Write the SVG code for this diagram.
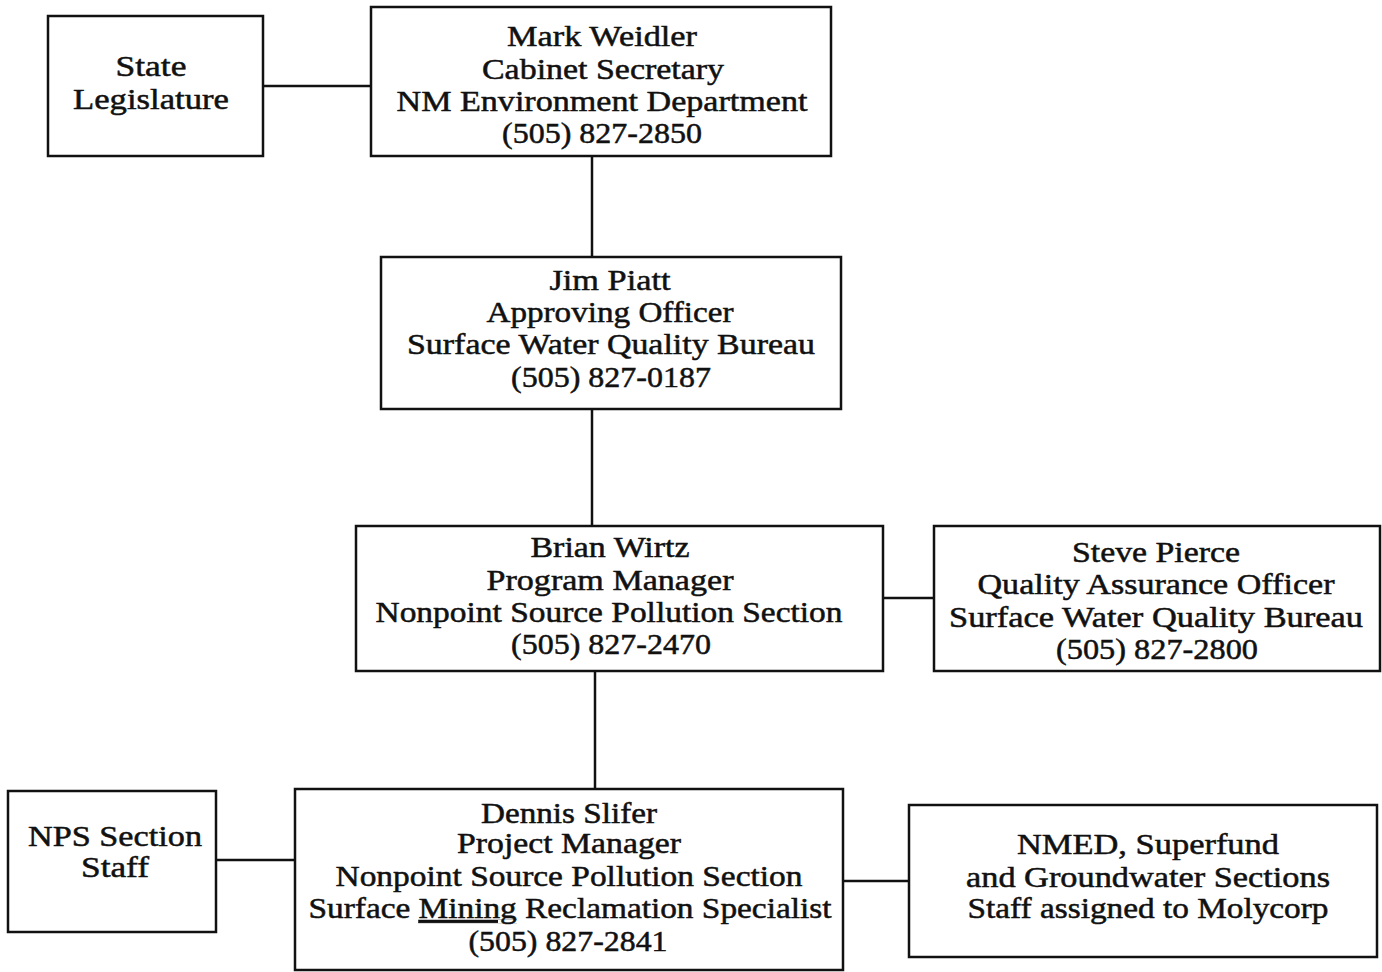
<svg xmlns="http://www.w3.org/2000/svg" width="1382" height="972" viewBox="0 0 1382 972">
<style>
.box{fill:#fff;stroke:#111;stroke-width:2.5}
.c{stroke:#111;stroke-width:2.5;fill:none}
text{font-family:"Liberation Serif","Times New Roman",serif;font-size:29px;fill:#111;text-anchor:middle;stroke:#111;stroke-width:0.5}
</style>
<rect width="1382" height="972" fill="#fff"/>
<g id="connectors">
<line class="c" x1="263" y1="86" x2="371" y2="86"/>
<line class="c" x1="592" y1="156" x2="592" y2="257"/>
<line class="c" x1="592" y1="409" x2="592" y2="526"/>
<line class="c" x1="883" y1="598" x2="934" y2="598"/>
<line class="c" x1="595" y1="671" x2="595" y2="789"/>
<line class="c" x1="216" y1="860" x2="295" y2="860"/>
<line class="c" x1="843" y1="881" x2="909" y2="881"/>
</g>
<g id="state-legislature">
<rect class="box" x="48" y="16" width="215" height="140"/>
<text x="151" y="76" textLength="71" lengthAdjust="spacingAndGlyphs">State</text>
<text x="151" y="109" textLength="156" lengthAdjust="spacingAndGlyphs">Legislature</text>
</g>
<g id="mark-weidler">
<rect class="box" x="371" y="7" width="460" height="149"/>
<text x="602" y="46" textLength="190" lengthAdjust="spacingAndGlyphs">Mark Weidler</text>
<text x="603" y="79" textLength="242" lengthAdjust="spacingAndGlyphs">Cabinet Secretary</text>
<text x="602" y="111" textLength="411" lengthAdjust="spacingAndGlyphs">NM Environment Department</text>
<text x="602" y="143" textLength="200" lengthAdjust="spacingAndGlyphs">(505) 827-2850</text>
</g>
<g id="jim-piatt">
<rect class="box" x="381" y="257" width="460" height="152"/>
<text x="610" y="290" textLength="121" lengthAdjust="spacingAndGlyphs">Jim Piatt</text>
<text x="610" y="322" textLength="247" lengthAdjust="spacingAndGlyphs">Approving Officer</text>
<text x="611" y="354" textLength="408" lengthAdjust="spacingAndGlyphs">Surface Water Quality Bureau</text>
<text x="611" y="387" textLength="200" lengthAdjust="spacingAndGlyphs">(505) 827-0187</text>
</g>
<g id="brian-wirtz">
<rect class="box" x="356" y="526" width="527" height="145"/>
<text x="610" y="557" textLength="159" lengthAdjust="spacingAndGlyphs">Brian Wirtz</text>
<text x="610" y="590" textLength="247" lengthAdjust="spacingAndGlyphs">Program Manager</text>
<text x="609" y="622" textLength="467" lengthAdjust="spacingAndGlyphs">Nonpoint Source Pollution Section</text>
<text x="611" y="654" textLength="200" lengthAdjust="spacingAndGlyphs">(505) 827-2470</text>
</g>
<g id="steve-pierce">
<rect class="box" x="934" y="526" width="446" height="145"/>
<text x="1156" y="562" textLength="168" lengthAdjust="spacingAndGlyphs">Steve Pierce</text>
<text x="1156" y="594" textLength="357" lengthAdjust="spacingAndGlyphs">Quality Assurance Officer</text>
<text x="1156" y="627" textLength="414" lengthAdjust="spacingAndGlyphs">Surface Water Quality Bureau</text>
<text x="1157" y="659" textLength="202" lengthAdjust="spacingAndGlyphs">(505) 827-2800</text>
</g>
<g id="nps-section-staff">
<rect class="box" x="8" y="791" width="208" height="141"/>
<text x="115" y="846" textLength="174" lengthAdjust="spacingAndGlyphs">NPS Section</text>
<text x="115" y="877" textLength="68" lengthAdjust="spacingAndGlyphs">Staff</text>
</g>
<g id="dennis-slifer">
<rect class="box" x="295" y="789" width="548" height="181"/>
<text x="569" y="823" textLength="176" lengthAdjust="spacingAndGlyphs">Dennis Slifer</text>
<text x="569" y="853" textLength="224" lengthAdjust="spacingAndGlyphs">Project Manager</text>
<text x="569" y="886" textLength="467" lengthAdjust="spacingAndGlyphs">Nonpoint Source Pollution Section</text>
<text x="570" y="918" textLength="523" lengthAdjust="spacingAndGlyphs">Surface <tspan text-decoration="underline">Mining</tspan> Reclamation Specialist</text>
<text x="568" y="951" textLength="199" lengthAdjust="spacingAndGlyphs">(505) 827-2841</text>
</g>
<g id="nmed-staff">
<rect class="box" x="909" y="805" width="468" height="152"/>
<text x="1148" y="854" textLength="262" lengthAdjust="spacingAndGlyphs">NMED, Superfund</text>
<text x="1148" y="887" textLength="364" lengthAdjust="spacingAndGlyphs">and Groundwater Sections</text>
<text x="1148" y="918" textLength="361" lengthAdjust="spacingAndGlyphs">Staff assigned to Molycorp</text>
</g>
</svg>
